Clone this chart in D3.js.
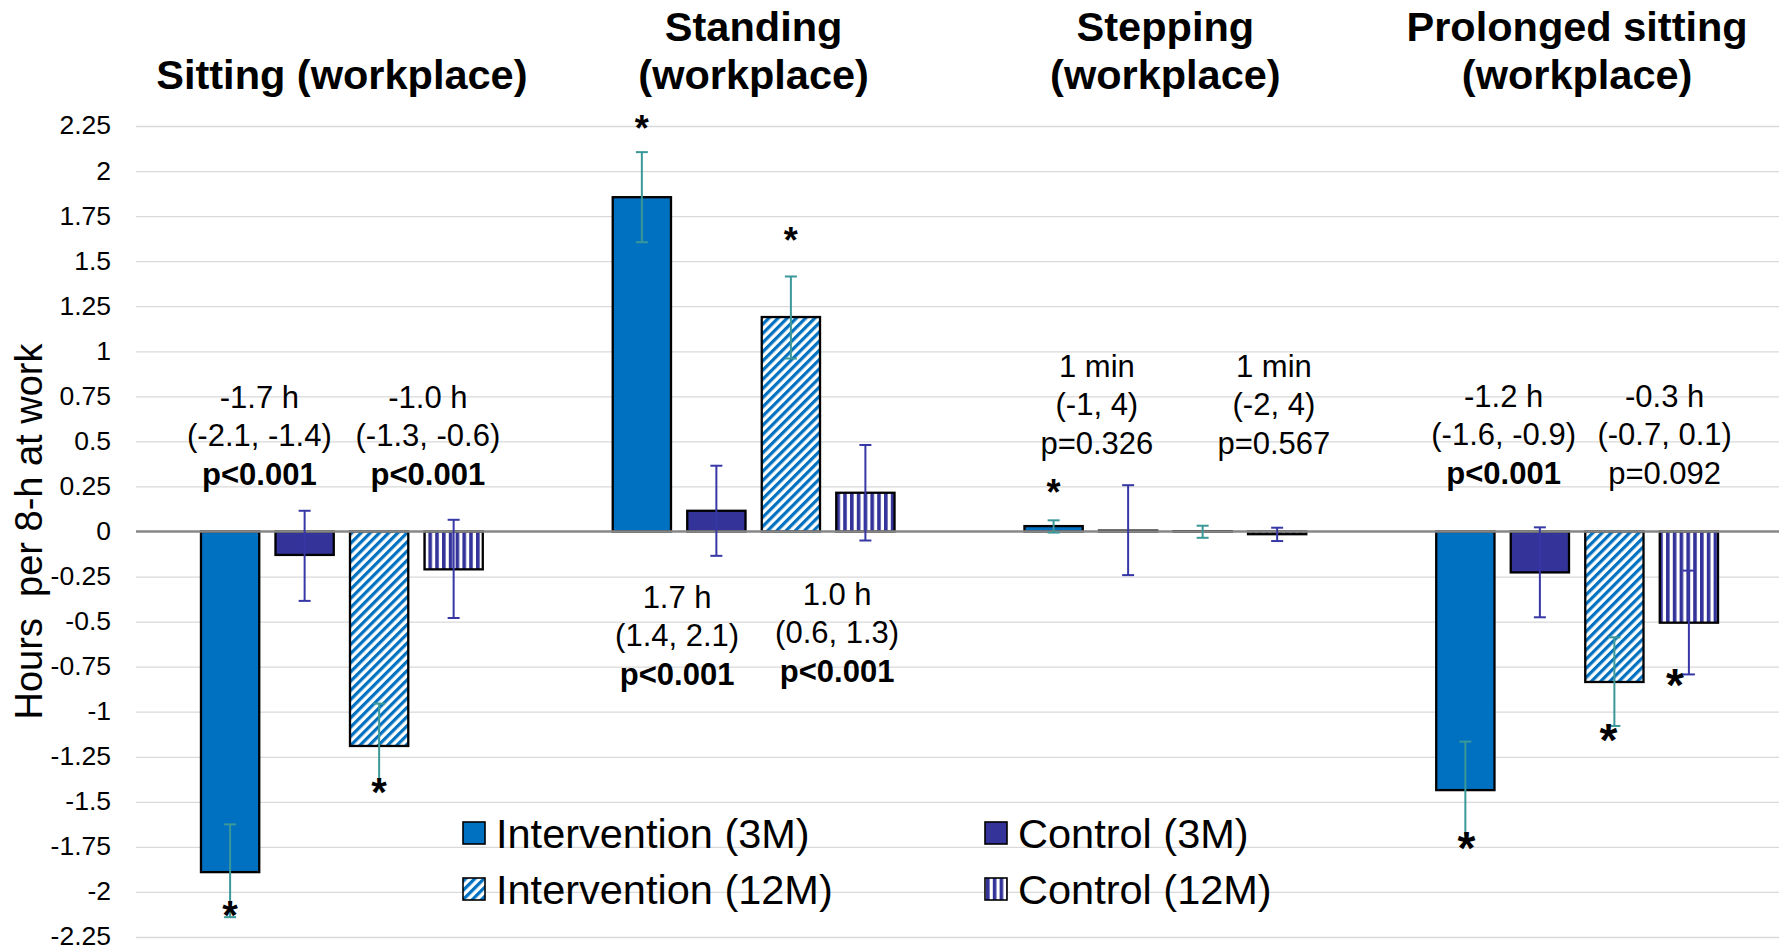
<!DOCTYPE html>
<html>
<head>
<meta charset="utf-8">
<script src="https://cdn.jsdelivr.net/npm/d3@7"></script>
<style>
  body { margin: 0; background: #fff; }
  svg text { font-family: "Liberation Sans", Arial, sans-serif; fill: #000; }
</style>
</head>
<body>
<div id="chart"></div>
<script>
// ---- data ----
const groups = ["Sitting", "Standing", "Stepping", "Prolonged sitting"];
const titleLines = [
    ["Sitting (workplace)"],
    ["Standing", "(workplace)"],
    ["Stepping", "(workplace)"],
    ["Prolonged sitting", "(workplace)"]
];
const series = ["Intervention (3M)", "Control (3M)", "Intervention (12M)", "Control (12M)"];

// change in hours per 8-h at work, one value per group
const intervention3M = [-1.89, 1.855, 0.03, -1.435];
const control3M = [-0.13, 0.115, 0.005, -0.227];
const intervention12M = [-1.19, 1.19, 0.002, -0.835];
const control12M = [-0.21, 0.215, -0.015, -0.506];

// error bar ends (low / high)
const intervention3MLow = [-2.14, 1.605, -0.006, -1.703];
const intervention3MHigh = [-1.625, 2.105, 0.062, -1.166];
const control3MLow = [-0.385, -0.135, -0.242, -0.476];
const control3MHigh = [0.115, 0.365, 0.257, 0.023];
const intervention12MLow = [-1.40, 0.96, -0.035, -1.079];
const intervention12MHigh = [-0.955, 1.415, 0.032, -0.587];
const control12MLow = [-0.48, -0.05, -0.053, -0.793];
const control12MHigh = [0.065, 0.48, 0.021, -0.217];

const yTicks = [2.25, 2, 1.75, 1.5, 1.25, 1, 0.75, 0.5, 0.25, 0, -0.25, -0.5, -0.75, -1, -1.25, -1.5, -1.75, -2, -2.25];
const yTickLabels = ["2.25", "2", "1.75", "1.5", "1.25", "1", "0.75", "0.5", "0.25", "0", "-0.25", "-0.5", "-0.75", "-1", "-1.25", "-1.5", "-1.75", "-2", "-2.25"];

// between-group differences written on the chart
const annotationText = [
    ["-1.7 h", "(-2.1, -1.4)", "p<0.001"],
    ["-1.0 h", "(-1.3, -0.6)", "p<0.001"],
    ["1.7 h", "(1.4, 2.1)", "p<0.001"],
    ["1.0 h", "(0.6, 1.3)", "p<0.001"],
    ["1 min", "(-1, 4)", "p=0.326"],
    ["1 min", "(-2, 4)", "p=0.567"],
    ["-1.2 h", "(-1.6, -0.9)", "p<0.001"],
    ["-0.3 h", "(-0.7, 0.1)", "p=0.092"]
];
const annotationSignificant = [true, true, true, true, false, false, true, false];

// bars marked with * : [group index, series index]
const starBars = [[0, 0], [0, 2], [1, 0], [1, 2], [2, 0], [3, 0], [3, 2], [3, 3]];

// ---- layout ----
const W = 1779, H = 949;
const valueRows = [intervention3M, control3M, intervention12M, control12M];
const lowRows = [intervention3MLow, control3MLow, intervention12MLow, control12MLow];
const highRows = [intervention3MHigh, control3MHigh, intervention12MHigh, control12MHigh];

const data = [];
groups.forEach((g, gi) => {
    series.forEach((s, si) => {
        data.push({ group: g, series: s, gi: gi, si: si,
            value: valueRows[si][gi], low: lowRows[si][gi], high: highRows[si][gi] });
    });
});

const svg = d3.select("#chart").append("svg")
    .attr("width", W)
    .attr("height", H);

const defs = svg.append("defs");
const diag = defs.append("pattern")
    .attr("id", "diag")
    .attr("patternUnits", "userSpaceOnUse")
    .attr("width", 6.5).attr("height", 6.5)
    .attr("patternTransform", "rotate(45)");
diag.append("rect").attr("width", 6.5).attr("height", 6.5).attr("fill", "#fff");
diag.append("rect").attr("width", 3.2).attr("height", 6.5).attr("fill", "#0070C0");

const vert = defs.append("pattern")
    .attr("id", "vert")
    .attr("patternUnits", "userSpaceOnUse")
    .attr("width", 6.8).attr("height", 10);
vert.append("rect").attr("width", 6.8).attr("height", 10).attr("fill", "#fff");
vert.append("rect").attr("width", 3.6).attr("height", 10).attr("fill", "#333399");

const fills = ["#0070C0", "#333399", "url(#diag)", "url(#vert)"];
const errColor = ["#3b9898", "#3737a6", "#3b9898", "#3737a6"];

const x0 = d3.scaleBand().domain(groups).range([136, 1783]);
const x1 = d3.scaleBand().domain(series).range([0, x0.bandwidth()])
    .paddingInner(0.218).paddingOuter(0.872);
const y = d3.scaleLinear().domain([-2.25, 2.25]).range([937, 126]);

// gridlines + tick labels
const yAxis = svg.append("g")
    .attr("transform", "translate(136,0)")
    .call(d3.axisLeft(y)
        .tickValues(yTicks)
        .tickSize(-(W - 136))
        .tickPadding(25)
        .tickFormat((d, i) => yTickLabels[i]));
yAxis.select(".domain").remove();
yAxis.selectAll(".tick line")
    .attr("stroke", "#d9d9d9")
    .attr("stroke-width", 1.3)
    .filter(d => d === 0).remove();
yAxis.selectAll(".tick text")
    .attr("font-size", 26.5)
    .attr("dy", "0.3em")
    .attr("fill", "#000")
    .style("font-family", "'Liberation Sans', Arial, sans-serif");

// y title
svg.append("text")
    .attr("transform", `translate(42,${y(0)}) rotate(-90)`)
    .attr("text-anchor", "middle")
    .attr("font-size", 38)
    .style("white-space", "pre")
    .text("Hours  per 8-h at work");

// group titles
titleLines.forEach((lines, gi) => {
    const cx = x0(groups[gi]) + x0.bandwidth() / 2;
    lines.forEach((t, li) => {
        svg.append("text")
            .attr("x", cx)
            .attr("y", 89 - (lines.length - 1 - li) * 48.5)
            .attr("text-anchor", "middle")
            .attr("font-size", 41.5)
            .attr("font-weight", "bold")
            .text(t);
    });
});

// bars
svg.append("g")
    .selectAll("rect")
    .data(data)
    .join("rect")
    .attr("x", d => x0(d.group) + x1(d.series))
    .attr("y", d => y(Math.max(0, d.value)))
    .attr("width", x1.bandwidth())
    .attr("height", d => Math.abs(y(d.value) - y(0)))
    .attr("fill", d => fills[d.si])
    .attr("stroke", "#000")
    .attr("stroke-width", 2.3);

// zero line
svg.append("line")
    .attr("x1", 136).attr("x2", W)
    .attr("y1", y(0)).attr("y2", y(0))
    .attr("stroke", "#878787")
    .attr("stroke-width", 2.7);

// error bars
const eb = svg.append("g").selectAll("g")
    .data(data)
    .join("g")
    .attr("stroke", d => errColor[d.si])
    .attr("stroke-width", 2);
const cxBar = d => x0(d.group) + x1(d.series) + x1.bandwidth() / 2;
eb.append("line")
    .attr("x1", cxBar).attr("x2", cxBar)
    .attr("y1", d => y(d.low)).attr("y2", d => y(d.high));
eb.append("line")
    .attr("x1", d => cxBar(d) - 6).attr("x2", d => cxBar(d) + 6)
    .attr("y1", d => y(d.low)).attr("y2", d => y(d.low));
eb.append("line")
    .attr("x1", d => cxBar(d) - 6).attr("x2", d => cxBar(d) + 6)
    .attr("y1", d => y(d.high)).attr("y2", d => y(d.high));

// asterisks: offsets (px) from the error-bar end, font size
const starLayout = [
    { dx: 0, dy: -10, fs: 40 }, { dx: 0, dy: 0, fs: 40 },
    { dx: 0, dy: -31, fs: 36 }, { dx: 0, dy: -43, fs: 36 },
    { dx: 0, dy: -35, fs: 36 },
    { dx: 1, dy: 0, fs: 46 }, { dx: -6, dy: 5, fs: 46 }, { dx: -14, dy: 1, fs: 46 }
];
starBars.forEach(([gi, si], k) => {
    const d = data[gi * series.length + si];
    const L = starLayout[k];
    const end = d.value >= 0 ? y(d.high) : y(d.low);
    const cy = end + L.dy;
    svg.append("text")
        .attr("x", cxBar(d) + L.dx)
        .attr("y", cy + 0.555 * L.fs)
        .attr("text-anchor", "middle")
        .attr("font-size", L.fs)
        .attr("font-weight", "bold")
        .text("*");
});

// annotations: which bar pair, nudge, first baseline
const annLayout = [
    { gi: 0, pair: 0, dx: -8, y0: 408 },
    { gi: 0, pair: 1, dx: 11.5, y0: 408 },
    { gi: 1, pair: 0, dx: -2, y0: 608 },
    { gi: 1, pair: 1, dx: 9, y0: 605 },
    { gi: 2, pair: 0, dx: 6, y0: 377 },
    { gi: 2, pair: 1, dx: 34, y0: 377 },
    { gi: 3, pair: 0, dx: 1, y0: 407 },
    { gi: 3, pair: 1, dx: 13, y0: 407 }
];
annotationText.forEach((lines, k) => {
    const L = annLayout[k];
    const g = groups[L.gi];
    const a = series[L.pair * 2], b = series[L.pair * 2 + 1];
    const mid = x0(g) + (x1(a) + x1(b) + x1.bandwidth()) / 2;
    lines.forEach((t, li) => {
        svg.append("text")
            .attr("x", mid + L.dx)
            .attr("y", L.y0 + li * 38.3)
            .attr("text-anchor", "middle")
            .attr("font-size", 31)
            .attr("font-weight", li === 2 && annotationSignificant[k] ? "bold" : "normal")
            .text(t);
    });
});

// legend
const legendPos = [[463, 822], [985, 822], [463, 878], [985, 878]];
series.forEach((s, si) => {
    const [lx, ly] = legendPos[si];
    svg.append("rect")
        .attr("x", lx).attr("y", ly)
        .attr("width", 22).attr("height", 22)
        .attr("fill", fills[si])
        .attr("stroke", "#000")
        .attr("stroke-width", 1.6);
    svg.append("text")
        .attr("x", lx + 33)
        .attr("y", ly + 25.5)
        .attr("font-size", 41.5)
        .text(s);
});
</script>
</body>
</html>
